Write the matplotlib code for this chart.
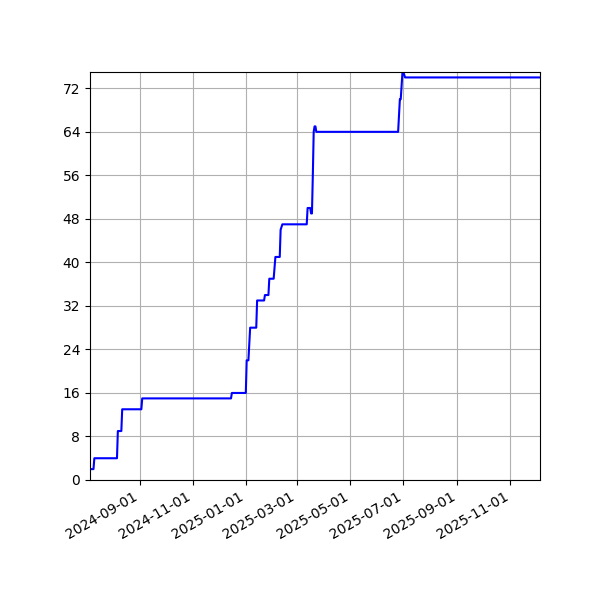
import matplotlib
matplotlib.use("Agg")
import matplotlib.pyplot as plt
import matplotlib.dates as mdates
from matplotlib.ticker import MaxNLocator
import pandas as pd

# running count, one point per change
dates = [
    "2024-07-06", "2024-07-10", "2024-07-11", "2024-08-06", "2024-08-07",
    "2024-08-11", "2024-08-12", "2024-09-03", "2024-09-04", "2024-12-15",
    "2024-12-16", "2025-01-01", "2025-01-02", "2025-01-04", "2025-01-06",
    "2025-01-13", "2025-01-14", "2025-01-22", "2025-01-23", "2025-01-27",
    "2025-01-28", "2025-02-02", "2025-02-03", "2025-02-04", "2025-02-09",
    "2025-02-10", "2025-02-12", "2025-03-12", "2025-03-13", "2025-03-16",
    "2025-03-17", "2025-03-18", "2025-03-19", "2025-03-20", "2025-03-21",
    "2025-03-22", "2025-03-23", "2025-06-25", "2025-06-27", "2025-06-28",
    "2025-06-30", "2025-07-01", "2025-07-03", "2025-12-05",
]
counts = [
    2, 2, 4, 4, 9,
    9, 13, 13, 15, 15,
    16, 16, 22, 22, 28,
    28, 33, 33, 34, 34,
    37, 37, 39, 41, 41,
    46, 47, 47, 50, 50,
    49, 49, 56, 64, 65,
    65, 64, 64, 70, 70,
    75, 75, 74, 74,
]

x = pd.to_datetime(dates)

fig, ax = plt.subplots(figsize=(6, 6), dpi=100)
ax.plot(x, counts, color="blue")
ax.set_xlim(x[0], x[-1])
ax.set_ylim(0, max(counts))
ax.yaxis.set_major_locator(MaxNLocator(integer=True))
ax.xaxis.set_major_locator(mdates.MonthLocator(bymonth=[1, 3, 5, 7, 9, 11]))
ax.xaxis.set_major_formatter(mdates.DateFormatter("%Y-%m-%d"))
ax.grid(True)
fig.autofmt_xdate()
fig.subplots_adjust(left=0.15)

plt.savefig("out.png", dpi=100)
plt.close()
